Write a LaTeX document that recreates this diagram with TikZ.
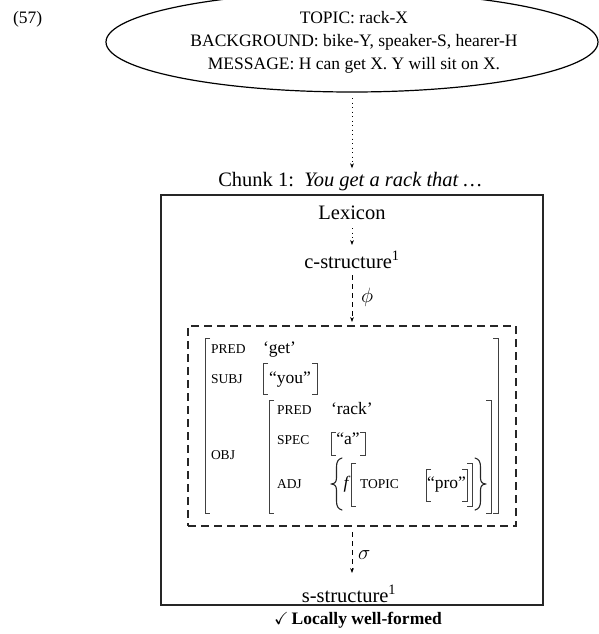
\documentclass[tikz,border=0pt]{standalone}
\usepackage{amssymb}
\usepackage{fontspec}
\setmainfont{Liberation Serif}
\usetikzlibrary{arrows.meta,shapes.geometric}
\begin{document}
\begin{tikzpicture}[x=1pt,y=-1pt,
  every node/.style={inner sep=0pt, outer sep=0pt},
  txt/.style={font=\fontsize{17.5}{21}\selectfont, anchor=base},
  big/.style={font=\fontsize{20.5}{24}\selectfont, anchor=base},
  feat/.style={font=\fontsize{13.5}{16}\selectfont, anchor=base west},
  val/.style={font=\fontsize{17.5}{21}\selectfont, anchor=base west},
  cval/.style={font=\fontsize{17.5}{21}\selectfont, anchor=base},
  brk/.style={line width=0.7pt, draw=black!75},
  brace/.style={line width=1.1pt, draw=black!85, line cap=round, line join=round},
  tip/.style={-{Stealth[length=5pt,width=3.8pt]}},
  dotarrow/.style={tip, dash pattern=on 0.9pt off 3.6pt, line width=0.8pt},
  dasharrow/.style={tip, dash pattern=on 5pt off 4pt, line width=0.8pt},
  lbl/.style={font=\fontsize{20.5}{24}\selectfont},
]
\useasboundingbox (0,0) rectangle (599,634);

% example number and the discourse context
\node[txt, anchor=base west] (exnum) at (13,23.5) {(57)};
\node[draw, ellipse, line width=1.2pt, minimum width=492pt, minimum height=100pt] (ctx) at (352,42) {};
\node[txt] (ctxtopic) at (354,23.5) {TOPIC: rack-X};
\node[txt] (ctxback) at (354,46.5) {BACKGROUND: bike-Y, speaker-S, hearer-H};
\node[txt] (ctxmsg) at (354,69.5) {MESSAGE: H can get X. Y will sit on X.};

% chunk heading and frame
\node[big] (chunk) at (350,186.5) {Chunk 1:\ \ \textit{You get a rack that \dots}};
\node[draw=black!85, line width=1.5pt, minimum width=382pt, minimum height=410pt] (chunkbox) at (352,400) {};

\draw[dotarrow, shorten <=6pt, shorten >=4pt] (ctx.south) -- (ctx.south |- chunk.north);

% lexicon and c-structure
\node[big] (lex) at (352,219) {Lexicon};
\node[big] (cstr) at (352,268) {c-structure\textsuperscript{1}};
\draw[dotarrow, shorten <=9pt, shorten >=6pt] (lex.south) -- (lex.south |- cstr.north);

% f-structure frame
\node[draw=black!85, line width=1.3pt, dash pattern=on 8pt off 5pt, minimum width=328pt, minimum height=200pt] (fbox) at (352,426) {};
\draw[dasharrow, shorten <=7pt, shorten >=4pt] (cstr.south) -- node[right=9pt, lbl] (phi) {$\phi$} (fbox.north);

% f-structure: outer matrix
\draw[brk] (210,338) -- (205,338) -- (205,513) -- (210,513);
\draw[brk] (493,338) -- (498,338) -- (498,513) -- (493,513);
\node[feat] (fpred) at (211,353) {PRED};
\node[val] (fget) at (263,353) {‘get’};
\node[feat] (fsubj) at (211,383) {SUBJ};
\draw[brk] (268,363) -- (263,363) -- (263,394) -- (268,394);
\draw[brk] (312,363) -- (317,363) -- (317,394) -- (312,394);
\node[cval] (fyou) at (290,383) {“you”};
\node[feat] (fobj) at (211,459) {OBJ};

% f-structure: OBJ value
\draw[brk] (274,400) -- (269,400) -- (269,513) -- (274,513);
\draw[brk] (486,400) -- (491,400) -- (491,513) -- (486,513);
\node[feat] (opred) at (277,414) {PRED};
\node[val] (orack) at (331,414) {‘rack’};
\node[feat] (ospec) at (277,444) {SPEC};
\draw[brk] (336,432) -- (331,432) -- (331,455) -- (336,455);
\draw[brk] (360,432) -- (365,432) -- (365,455) -- (360,455);
\node[cval] (oa) at (348,444) {“a”};
\node[feat] (oadj) at (277,488) {ADJ};

% f-structure: ADJ set, with curly braces drawn as paths
\draw[brace] (342,458) .. controls (338,459) and (336.5,462) .. (336.5,467) -- (336.5,478)
  .. controls (336.5,482) and (334.5,484) .. (331,484)
  .. controls (334.5,484) and (336.5,486) .. (336.5,490) -- (336.5,501)
  .. controls (336.5,506) and (338,509) .. (342,510);
\draw[brace] (475,458) .. controls (479,459) and (480.5,462) .. (480.5,467) -- (480.5,478)
  .. controls (480.5,482) and (482.5,484) .. (486,484)
  .. controls (482.5,484) and (480.5,486) .. (480.5,490) -- (480.5,501)
  .. controls (480.5,506) and (479,509) .. (475,510);
\node[val, font=\fontsize{17.5}{21}\selectfont\itshape] (af) at (343.5,488) {f};
\draw[brk] (356,463) -- (351,463) -- (351,506) -- (356,506);
\draw[brk] (467,463) -- (472,463) -- (472,506) -- (467,506);
\node[feat] (atopic) at (360,488) {TOPIC};
\draw[brk] (431,469) -- (426,469) -- (426,501) -- (431,501);
\draw[brk] (462,469) -- (467,469) -- (467,501) -- (462,501);
\node[cval] (apro) at (446.5,488) {“pro”};

% s-structure
\node[big] (sstr) at (349,602) {s-structure\textsuperscript{1}};
\draw[dasharrow, shorten <=6pt, shorten >=12pt] (fbox.south) -- node[right=6pt, lbl] (sigma) {$\sigma$} (fbox.south |- sstr.north);

% verdict
\node[txt, font=\fontsize{17.5}{21}\selectfont\bfseries] (verdict) at (358,624) {$\checkmark$\,Locally well-formed};
\end{tikzpicture}
\end{document}
